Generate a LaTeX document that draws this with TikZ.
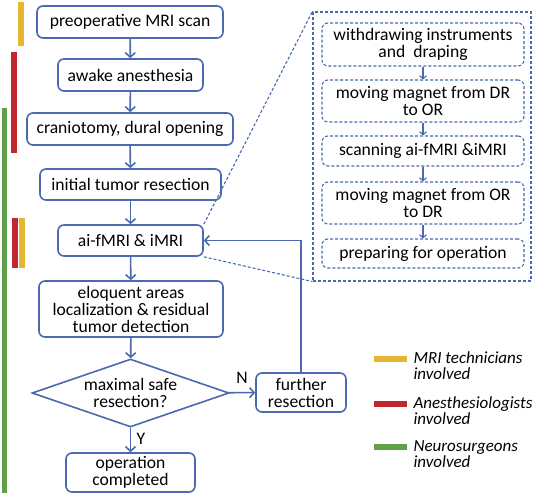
\documentclass[tikz,border=0pt]{standalone}
\usepackage{fontspec}
\setmainfont{Carlito}
\usetikzlibrary{shapes.geometric,arrows.meta}
\definecolor{lineblue}{RGB}{74,105,176}
\definecolor{techyellow}{RGB}{229,182,49}
\definecolor{anesred}{RGB}{192,40,46}
\definecolor{surggreen}{RGB}{95,160,72}
\tikzset{
  procbox/.style={draw=lineblue, line width=1.6pt, rounded corners=6pt, align=center,
        inner sep=0pt, font=\fontsize{17.6}{17}\selectfont},
  subbox/.style={draw=lineblue, line width=1.1pt, dash pattern=on 3pt off 2pt, rounded corners=6pt, align=center,
        inner sep=0pt, minimum width=202pt, font=\fontsize{17.6}{17}\selectfont},
  flow/.style={draw=lineblue, line width=1.6pt, -{Straight Barb[length=4.5pt,width=10pt]}},
  subflow/.style={draw=lineblue, line width=1.1pt, -{Straight Barb[length=3pt,width=7pt]}},
  zoomline/.style={draw=lineblue, line width=1.1pt, dash pattern=on 3pt off 2pt},
  staffbar/.style={line width=6pt},
  legendtext/.style={anchor=west, align=left, font=\fontsize{17}{16}\selectfont\itshape}
}
\begin{document}
\begin{tikzpicture}[x=1pt,y=-1pt]
\useasboundingbox (0,0) rectangle (536,495);

% main flow
\node[procbox, minimum width=186pt, minimum height=32pt] (mriscan) at (130,22) {preoperative MRI scan};
\node[procbox, minimum width=145pt, minimum height=32pt] (anesthesia) at (130.5,75) {awake anesthesia};
\node[procbox, minimum width=206pt, minimum height=32pt] (craniotomy) at (130,129) {craniotomy, dural opening};
\node[procbox, minimum width=181pt, minimum height=31pt] (resection) at (130.5,184.5) {initial tumor resection};
\node[procbox, minimum width=145pt, minimum height=31pt] (aifmri) at (130.5,240.5) {ai-fMRI \& iMRI};
\node[procbox, minimum width=184pt, minimum height=56pt] (eloquent) at (131,309) {eloquent areas\\localization \& residual\\tumor detection};
\node[draw=lineblue, line width=1.6pt, diamond, shape aspect=2.9, inner sep=0pt,
      minimum width=197pt, minimum height=68pt, align=center,
      font=\fontsize{17.6}{17}\selectfont] (maxsafe) at (130.5,393) {maximal safe\\resection?};
\node[procbox, minimum width=129pt, minimum height=39pt] (completed) at (130.5,472.5) {operation\\completed};
\node[procbox, minimum width=90pt, minimum height=39pt] (further) at (301,392.5) {further\\resection};

\draw[flow] (mriscan) -- (anesthesia);
\draw[flow] (anesthesia) -- (craniotomy);
\draw[flow] (craniotomy) -- (resection);
\draw[flow] (resection) -- (aifmri);
\draw[flow] (aifmri) -- (eloquent);
\draw[flow] (eloquent) -- (maxsafe);
\draw[flow] (maxsafe) -- (completed) node[pos=0.45, right=2pt, font=\fontsize{17.6}{15}\selectfont] (ylabel) {Y};
\draw[flow] (maxsafe) -- (further) node[midway, above=5pt, font=\fontsize{17.6}{15}\selectfont] (nlabel) {N};
\draw[flow] (further.north) |- (aifmri.east);

% zoomed procedure
\node[draw=lineblue, line width=1.1pt, dash pattern=on 3pt off 2pt, minimum width=218pt, minimum height=269pt] (scanbox) at (422,146.5) {};
\node[subbox, minimum height=43pt] (withdraw) at (423,44.5) {withdrawing instruments\\ and\ \ draping};
\node[subbox, minimum height=42pt] (tooroom) at (423,101) {moving magnet from DR\\to OR};
\node[subbox, minimum height=30pt] (scanning) at (423,151) {scanning ai-fMRI \&iMRI};
\node[subbox, minimum height=42pt] (todroom) at (423,203) {moving magnet from OR\\to DR};
\node[subbox, minimum height=29pt] (preparing) at (423,253.5) {preparing for operation};

\draw[subflow] (withdraw) -- (tooroom);
\draw[subflow] (tooroom) -- (scanning);
\draw[subflow] (scanning) -- (todroom);
\draw[subflow] (todroom) -- (preparing);
\draw[zoomline] (aifmri.north east) -- (scanbox.north west);
\draw[zoomline] (aifmri.south east) -- (scanbox.south west);

% staff bars
\draw[staffbar, techyellow] (21,2) -- (21,46);
\draw[staffbar, anesred] (14,52) -- (14,153);
\draw[staffbar, surggreen, line width=5pt] (4.5,108) -- (4.5,493);
\draw[staffbar, anesred] (14.5,218) -- (14.5,268);
\draw[staffbar, techyellow] (22,218) -- (22,268);

% legend
\draw[staffbar, techyellow] (374,359) -- (407,359);
\draw[staffbar, anesred] (374,404) -- (407,404);
\draw[staffbar, surggreen] (374,447) -- (407,447);
\node[legendtext] (techlegend) at (410,366) {MRI technicians\\involved};
\node[legendtext] (aneslegend) at (410,411) {Anesthesiologists\\involved};
\node[legendtext] (surglegend) at (410,454) {Neurosurgeons\\involved};
\end{tikzpicture}
\end{document}
